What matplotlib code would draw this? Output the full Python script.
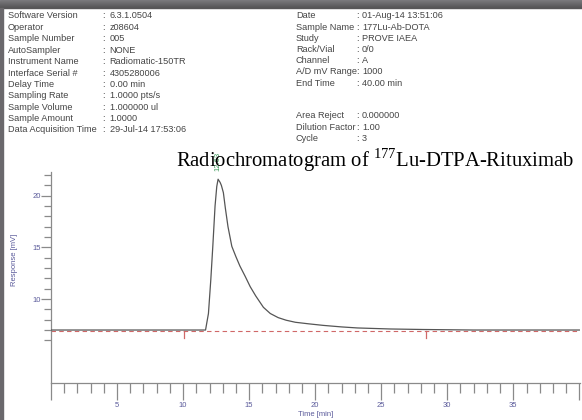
import numpy as np
import matplotlib.pyplot as plt
from matplotlib.patches import Rectangle
from matplotlib.ticker import MultipleLocator, FixedLocator

plt.rcParams['font.family'] = ['Liberation Sans', 'DejaVu Sans']
plt.rcParams['mathtext.fontset'] = 'custom'
plt.rcParams['mathtext.rm'] = 'Liberation Serif'

# ---- data ----
time_min = [0, 11.7, 11.92, 12.1, 12.25, 12.42, 12.55, 12.65, 12.8, 12.9, 13.05, 13.2, 13.4,
            13.69, 14.0, 14.3, 14.7, 15.08, 15.5, 16.08, 16.6, 17.2, 17.8, 18.5, 19.5,
            20.6, 22.0, 23.2, 25.7, 28.2, 32.0, 40.0]
response_mv = [7.0, 7.0, 8.6, 11.9, 15.1, 19.0, 20.9, 21.6, 21.3, 21.0, 20.3, 18.8, 17.0,
               15.1, 14.1, 13.2, 12.2, 11.2, 10.3, 9.2, 8.6, 8.2, 7.95, 7.75, 7.6,
               7.45, 7.3, 7.2, 7.1, 7.05, 7.0, 7.0]
baseline_mv = 6.95
integration_marks = [10.1, 28.4]
peak_time = 12.65
peak_label = "12.63"

header_left = [("Software Version", "6.3.1.0504"), ("Operator", "z08604"),
               ("Sample Number", "005"), ("AutoSampler", "NONE"),
               ("Instrument Name", "Radiomatic-150TR"), ("Interface Serial #", "4305280006"),
               ("Delay Time", "0.00 min"), ("Sampling Rate", "1.0000 pts/s"),
               ("Sample Volume", "1.000000 ul"), ("Sample Amount", "1.0000"),
               ("Data Acquisition Time", "29-Jul-14 17:53:06")]
header_right = [("Date", "01-Aug-14 13:51:06"), ("Sample Name", "177Lu-Ab-DOTA"),
                ("Study", "PROVE IAEA"), ("Rack/Vial", "0/0"), ("Channel", "A"),
                ("A/D mV Range", "1000"), ("End Time", "40.00 min")]
header_right2 = [("Area Reject", "0.000000"), ("Dilution Factor", "1.00"), ("Cycle", "3")]

W, H = 582, 420
fig = plt.figure(figsize=(W / 100, H / 100), dpi=100)
fig.patch.set_facecolor('white')

def px(x, y):
    return x / W, 1 - y / H

# frame of the screenshot
for i in range(8):
    c = 0.48 - 0.02 * i
    fig.patches.append(Rectangle((0, 1 - (i + 1) / H), 1, 1 / H, transform=fig.transFigure,
                                 color=(c, c * 0.99, c * 1.02), zorder=-1))
fig.patches.append(Rectangle((0, 0), 3 / W, 1 - 8 / H, transform=fig.transFigure,
                             color='#6a686c', zorder=-1))

txt_col = '#444444'
fs = 6.6
for i, (k, v) in enumerate(header_left):
    y = 16 + i * 11.4
    fig.text(*px(7.5, y), k, fontsize=fs, color=txt_col, va='center')
    fig.text(*px(102, y), ":", fontsize=fs, color=txt_col, va='center')
    fig.text(*px(109.5, y), v, fontsize=fs, color=txt_col, va='center')
for rows, y0 in [(header_right, 16), (header_right2, 116)]:
    for i, (k, v) in enumerate(rows):
        y = y0 + i * 11.2
        fig.text(*px(296, y), k, fontsize=fs, color=txt_col, va='center')
        fig.text(*px(356, y), ":", fontsize=fs, color=txt_col, va='center')
        fig.text(*px(362, y), v, fontsize=fs, color=txt_col, va='center')

fig.text(*px(176, 167), r"Radiochromatogram of $^{177}$Lu-DTPA-Rituximab",
         fontsize=14.9, family='Liberation Serif', color='black', va='baseline')

# ---- chromatogram ----
ax = fig.add_axes([51 / W, 37 / H, 529 / W, 211 / H])
ax.set_xlim(0, 40.05)
ax.set_ylim(1.87, 22.3)
ax.patch.set_alpha(0)

ax.plot(time_min, response_mv, color='#555555', lw=0.9, zorder=3)
ax.plot([0, 40], [baseline_mv, baseline_mv], color='#d06868', lw=0.8,
        ls=(0, (4, 3)), zorder=2)
for t in integration_marks:
    ax.plot([t, t], [baseline_mv, baseline_mv - 0.7], color='#d06868', lw=0.9)

# peak marker
ax.annotate(peak_label, xy=(peak_time, 21.6), xytext=(0, 6), textcoords='offset points',
            rotation=90, ha='center', va='bottom', fontsize=5.5, color='#3c9a5a',
            annotation_clip=False)

axis_col = '#8a8a8a'
lab_col = '#5a5a9a'
for s in ['top', 'right']:
    ax.spines[s].set_visible(False)
for s in ['left', 'bottom']:
    ax.spines[s].set_color(axis_col)
    ax.spines[s].set_linewidth(0.9)

ax.xaxis.set_minor_locator(MultipleLocator(1))
ax.set_xticks(range(0, 41, 5))
ax.set_xticklabels(['' if t in (0, 40) else str(t) for t in range(0, 41, 5)])
ax.tick_params(axis='x', which='major', length=12, width=0.9, color=axis_col,
               labelsize=5.5, labelcolor=lab_col, pad=1.5)
ax.tick_params(axis='x', which='minor', length=7, width=0.9, color=axis_col)

ax.set_yticks([10, 15, 20])
ax.yaxis.set_minor_locator(FixedLocator(np.arange(6, 23, 1)))
ax.tick_params(axis='y', which='major', length=7, width=0.9, color=axis_col,
               labelsize=5.5, labelcolor=lab_col, pad=0.5)
ax.tick_params(axis='y', which='minor', length=5, width=0.9, color=axis_col)

fig.text(*px(15, 260), "Response [mV]", rotation=90, fontsize=5.5, color=lab_col,
         ha='center', va='center')
fig.text(*px(316, 414), "Time [min]", fontsize=5.5, color=lab_col, ha='center', va='center')

fig.savefig('out.png', dpi=100)
